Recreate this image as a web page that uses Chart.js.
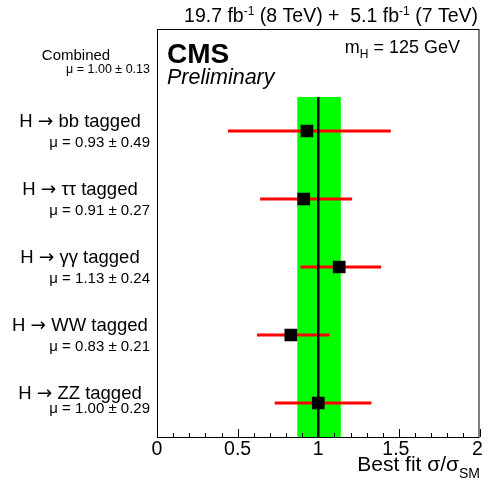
<!DOCTYPE html>
<html>
<head>
<meta charset="utf-8">
<script src="https://cdn.jsdelivr.net/npm/chart.js@4/dist/chart.umd.min.js"></script>
<style>
  body { margin: 0; background: #fff; }
  #wrap { width: 485px; height: 488px; }
</style>
</head>
<body>
<div id="wrap"><canvas id="chart" width="485" height="488"></canvas></div>
<script>
// channel results, top to bottom
const decays = ['bb', '\u03c4\u03c4', '\u03b3\u03b3', 'WW', 'ZZ'];
const rowPos = [5, 4, 3, 2, 1];
const muValues = [0.93, 0.91, 1.13, 0.83, 1.00];
const muErrors = [0.49, 0.27, 0.24, 0.21, 0.29];
const errLow = [0.44, 0.64, 0.89, 0.62, 0.73];
const errHigh = [1.45, 1.21, 1.39, 1.07, 1.33];

// combined fit
const combinedMu = 1.00;
const combinedErr = 0.13;
const combinedLow = 0.87;
const combinedHigh = 1.14;
const combinedRow = 6;

// x axis labels
const xLabels = [0, 0.5, 1, 1.5, 2];

const FONT = '"Liberation Sans", Arial, Helvetica, sans-serif';
const ARROW_FONT = '"DejaVu Sans", sans-serif';

// text pieces: [text, size, dy, style, family]
function measurePieces(ctx, pieces) {
  let total = 0;
  pieces.forEach(p => {
    ctx.font = (p[3] || '') + ' ' + p[1] + 'px ' + (p[4] || FONT);
    p.w = ctx.measureText(p[0]).width;
    total += p.w;
  });
  return total;
}
function drawPiecesAt(ctx, pieces, x, baseline) {
  ctx.textAlign = 'left';
  ctx.textBaseline = 'alphabetic';
  pieces.forEach(p => {
    ctx.font = (p[3] || '') + ' ' + p[1] + 'px ' + (p[4] || FONT);
    ctx.fillText(p[0], x, baseline + p[2]);
    x += p.w;
  });
}
function drawPieces(ctx, pieces, xRight, baseline) {
  const total = measurePieces(ctx, pieces);
  drawPiecesAt(ctx, pieces, xRight - total, baseline);
}

const bandPlugin = {
  id: 'band',
  beforeDatasetsDraw(chart) {
    const { ctx, scales: { x, y } } = chart;
    ctx.save();
    ctx.fillStyle = '#00ff00';
    const x0 = x.getPixelForValue(combinedLow);
    const x1 = x.getPixelForValue(combinedHigh);
    const y0 = y.getPixelForValue(combinedRow - 0.5);
    const y1 = y.getPixelForValue(y.min);
    ctx.fillRect(x0, y0, x1 - x0, y1 - y0);
    ctx.restore();
  }
};

const decorPlugin = {
  id: 'decor',
  afterDraw(chart) {
    const { ctx, chartArea: a, scales: { x, y } } = chart;
    ctx.save();
    // frame
    ctx.strokeStyle = '#000';
    ctx.lineWidth = 1;
    ctx.strokeRect(a.left + 0.5, a.top + 0.5, a.right - a.left - 1, a.bottom - a.top);
    // tick marks pointing inwards
    x.ticks.forEach(t => {
      const px = Math.round(x.getPixelForValue(t.value)) + 0.5;
      const major = Math.abs(t.value * 2 - Math.round(t.value * 2)) < 1e-6;
      ctx.beginPath();
      ctx.moveTo(px, a.bottom);
      ctx.lineTo(px, a.bottom - (major ? 8 : 4));
      ctx.stroke();
    });

    ctx.fillStyle = '#000';
    ctx.font = '19.5px ' + FONT;
    ctx.textAlign = 'center';
    ctx.textBaseline = 'alphabetic';
    xLabels.forEach(v => {
      ctx.fillText(String(v), x.getPixelForValue(v) - (v === 2 ? 2 : v === 1.5 ? 3 : 0), a.bottom + 18);
    });

    // channel labels
    decays.forEach((d, i) => {
      const py = y.getPixelForValue(rowPos[i]);
      const pieces = [['H ', 18.5, 0], ['\u2192', 18.5, 0, '', ARROW_FONT], [' ' + d + ' tagged', 18.5, 0]];
      const w = measurePieces(ctx, pieces);
      drawPiecesAt(ctx, pieces, 80 - w / 2, py - 4);
      ctx.font = '15px ' + FONT;
      ctx.textAlign = 'right';
      const off = i === decays.length - 1 ? 10 : 16;
      ctx.fillText('\u03bc = ' + muValues[i].toFixed(2) + ' \u00b1 ' + muErrors[i].toFixed(2), 150, py + off);
    });
    const cy = y.getPixelForValue(combinedRow);
    ctx.font = '15px ' + FONT;
    ctx.textAlign = 'center';
    ctx.fillText('Combined', 76, cy - 3);
    ctx.font = '12.5px ' + FONT;
    ctx.textAlign = 'right';
    ctx.fillText('\u03bc = ' + combinedMu.toFixed(2) + ' \u00b1 ' + combinedErr.toFixed(2), 150, cy + 10);

    // CMS labels
    ctx.textAlign = 'left';
    ctx.font = 'bold 28px ' + FONT;
    ctx.fillText('CMS', a.left + 10, 63);
    ctx.font = 'italic 21.5px ' + FONT;
    ctx.fillText('Preliminary', a.left + 10, 84);
    drawPieces(ctx, [['m', 18, 0], ['H', 12, 5], [' = 125 GeV', 18, 0]], 460, 53);

    // luminosity
    drawPieces(ctx, [
      ['19.7 fb', 19.5, 0], ['-1', 12, -7], [' (8 TeV) +  5.1 fb', 19.5, 0], ['-1', 12, -7], [' (7 TeV)', 19.5, 0]
    ], 478, 22);

    // axis title
    drawPieces(ctx, [['Best fit \u03c3/\u03c3', 21, 0], ['SM', 14, 7]], 480, 471);
    ctx.restore();
  }
};

const barSets = decays.map((d, i) => ({
  data: [{ x: errLow[i], y: rowPos[i] }, { x: errHigh[i], y: rowPos[i] }],
  showLine: true,
  borderColor: '#ff0000',
  borderWidth: 3,
  pointRadius: 0,
  order: 3
}));

new Chart(document.getElementById('chart'), {
  type: 'scatter',
  data: {
    datasets: [
      {
        data: muValues.map((m, i) => ({ x: m, y: rowPos[i] })),
        pointStyle: 'rect',
        pointRadius: 9,
        backgroundColor: '#000',
        borderColor: '#000',
        borderWidth: 0,
        order: 1
      },
      {
        data: [{ x: combinedMu, y: 0.5 }, { x: combinedMu, y: combinedRow - 0.5 }],
        showLine: true,
        borderColor: '#000',
        borderWidth: 2.5,
        pointRadius: 0,
        order: 2
      },
      ...barSets
    ]
  },
  options: {
    responsive: false,
    animation: false,
    events: [],
    layout: { autoPadding: false, padding: { left: 157, right: 5.5, top: 29, bottom: 51 } },
    plugins: { legend: { display: false }, tooltip: { enabled: false } },
    scales: {
      x: {
        type: 'linear',
        min: 0,
        max: 2,
        grid: { display: false, drawTicks: false },
        border: { display: false },
        ticks: { display: false, stepSize: 0.1, autoSkip: false }
      },
      y: {
        type: 'linear',
        display: false,
        min: 0.5,
        max: 6.5
      }
    }
  },
  plugins: [bandPlugin, decorPlugin]
});
</script>
</body>
</html>
